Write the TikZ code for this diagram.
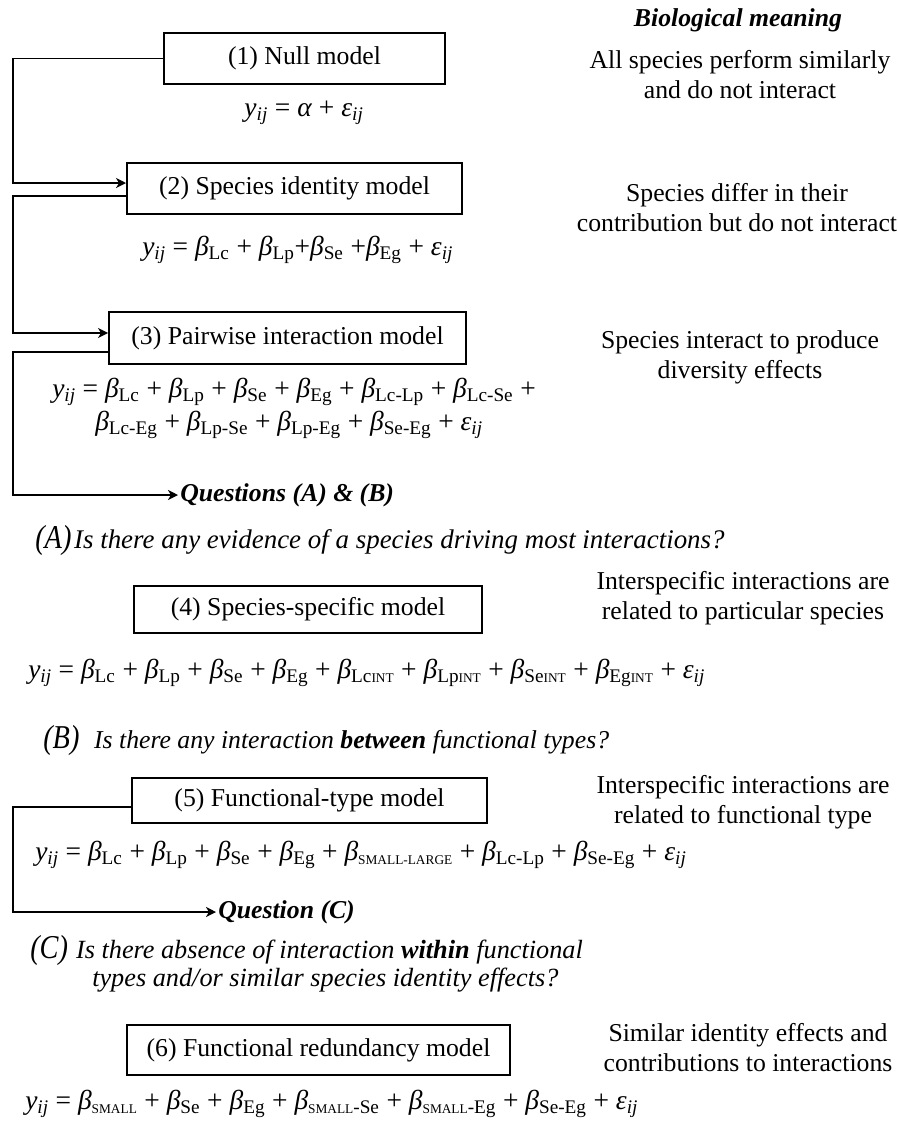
\documentclass[tikz,border=0pt]{standalone}
\usepackage{fontspec}
\setmainfont{Liberation Serif}
\usepackage{graphicx}
\usetikzlibrary{arrows.meta,calc}

\newcommand\yij{\textit{y}\textsubscript{\textit{ij}}}
\newcommand\eij{\textit{ε}\textsubscript{\textit{ij}}}
\newcommand\bt[1]{\textit{β}\textsubscript{#1}}
\newcommand\smc[1]{{\fontsize{10}{10}\selectfont #1}}
\newcommand\lett[1]{\scalebox{0.85}[1]{\fontsize{25}{25}\selectfont\itshape #1}}

\tikzset{
  txt/.style={inner sep=0pt, align=center, font=\fontsize{19.3}{22.5}\selectfont},
  eqn/.style={inner sep=0pt, anchor=west, font=\fontsize{20.6}{24}\selectfont},
  mbox/.style={txt, draw, line width=1.4pt},
  conn/.style={line width=1.4pt, -{Stealth[length=7.5pt,width=7.5pt,inset=2.2pt]}},
}

\begin{document}
\begin{tikzpicture}[x=0.75pt,y=-0.75pt]
\fill[white] (0,0) rectangle (897,1122);
\useasboundingbox (0,0) rectangle (897,1122);

% right column
\node[txt] (bm) at (738,20) {\textbf{\textit{Biological meaning}}};
\node[txt] (r1) at (740,75) {All species perform similarly\\and do not interact};
\node[txt] (r2) at (737,207.5) {Species differ in their\\contribution but do not interact};
\node[txt] (r3) at (740,357.5) {Species interact to produce\\diversity effects};
\node[txt] (r4) at (743,598) {Interspecific interactions are\\related to particular species};
\node[txt] (r5) at (743,802) {Interspecific interactions are\\related to functional type};
\node[txt] (r6) at (748,1048) {Similar identity effects and\\contributions to interactions};

% boxes
\node[mbox, minimum width=210.75pt, minimum height=38.25pt] (b1) at (304.5,58.5) {(1) Null model};
\node[mbox, minimum width=251.25pt, minimum height=38.25pt] (b2) at (294.5,188.5) {(2) Species identity model};
\node[mbox, minimum width=267.75pt, minimum height=39pt] (b3) at (287.5,338) {(3) Pairwise interaction model};
\node[mbox, minimum width=261pt, minimum height=35.25pt] (b4) at (308,609.5) {(4) Species-specific model};
\node[mbox, minimum width=266.25pt, minimum height=33.75pt] (b5) at (309.5,800.5) {(5) Functional-type model};
\node[mbox, minimum width=287.25pt, minimum height=37.5pt] (b6) at (318.5,1050) {(6) Functional redundancy model};

% equations
\node[eqn, anchor=center] (e1) at (304,113) {\yij{} = \textit{α} + \eij};
\node[eqn] (e2) at (142,250) {\yij{} = \bt{Lc} + \bt{Lp}+\bt{Se} +\bt{Eg} + \eij};
\node[eqn] (e3a) at (52,392) {\yij{} = \bt{Lc} + \bt{Lp} + \bt{Se} + \bt{Eg} + \bt{Lc-Lp} + \bt{Lc-Se} +};
\node[eqn] (e3b) at (95,425) {\bt{Lc-Eg} + \bt{Lp-Se} + \bt{Lp-Eg} + \bt{Se-Eg} + \eij};
\node[eqn] (e4) at (28,673) {\yij{} = \bt{Lc} + \bt{Lp} + \bt{Se} + \bt{Eg} + \bt{Lc\smc{INT}} + \bt{Lp\smc{INT}} + \bt{Se\smc{INT}} + \bt{Eg\smc{INT}} + \eij};
\node[eqn] (e5) at (35,855) {\yij{} = \bt{Lc} + \bt{Lp} + \bt{Se} + \bt{Eg} + \bt{\smc{SMALL-LARGE}} + \bt{Lc-Lp} + \bt{Se-Eg} + \eij};
\node[eqn] (e6) at (25,1104) {\yij{} = \bt{\smc{SMALL}} + \bt{Se} + \bt{Eg} + \bt{\smc{SMALL}-Se} + \bt{\smc{SMALL}-Eg} + \bt{Se-Eg} + \eij};

% questions
\node[txt, anchor=west] (qab) at (180,495) {\textbf{\textit{Questions (A) \& (B)}}};
\node[txt, anchor=west, font=\fontsize{20.2}{24}\selectfont] (qa) at (35,540) {\lett{(A)}\hspace{2pt}\textit{Is there any evidence of a species driving most interactions?}};
\node[txt, anchor=west] (qb) at (43,740) {\lett{(B)}\hspace{11pt}\textit{Is there any interaction \textbf{between} functional types?}};
\node[txt, anchor=west] (qcq) at (218,912) {\textbf{\textit{Question (C)}}};
\node[txt, anchor=west, font=\fontsize{19.7}{24}\selectfont] (qc) at (30,950) {\lett{(C)}\hspace{6pt}\textit{Is there absence of interaction \textbf{within} functional}};
\node[txt, anchor=west, font=\fontsize{19.7}{24}\selectfont] (qc2) at (92,980) {\textit{types and/or similar species identity effects?}};

% connectors
\coordinate (rail) at (13,0);
\coordinate (i2) at ([yshift=4.1pt]b2.west);
\coordinate (o2) at ([yshift=-5.6pt]b2.west);
\coordinate (i3) at ([yshift=3.75pt]b3.west);
\coordinate (o3) at ([yshift=-10.5pt]b3.west);
\coordinate (o5) at ([yshift=-4.9pt]b5.west);
\coordinate (tab) at ([xshift=-1.5pt]qab.west);
\coordinate (tc) at ([xshift=-1.5pt]qcq.west);

\draw[conn] (b1.west) -- (b1.west -| rail) |- (i2);
\draw[conn] (o2) -- (o2 -| rail) |- (i3);
\draw[conn] (o3) -- (o3 -| rail) |- (tab);
\draw[conn] (o5) -- (o5 -| rail) |- (tc);
\end{tikzpicture}
\end{document}
